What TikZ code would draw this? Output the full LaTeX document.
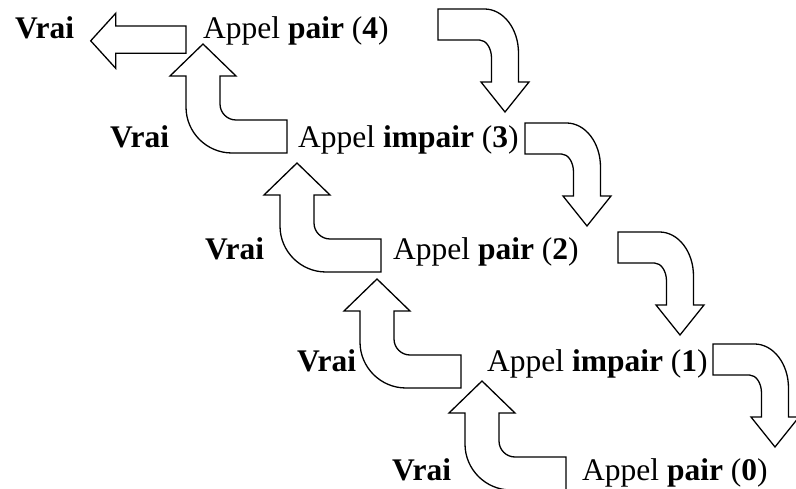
\documentclass[tikz,border=0pt]{standalone}
\usepackage{fontspec}
\setmainfont{Liberation Serif}
\usetikzlibrary{positioning}
\tikzset{
  rtxt/.style={anchor=base west, inner sep=0pt, font=\fontsize{31.5}{38}\selectfont},
  rblock/.style={draw, line width=1.3pt, fill=white, line join=miter},
  retour/.pic={
    \draw[rblock] (0,0) -- (33,32) -- (17,32) -- (17,60)
      .. controls (17,68.8) and (24.2,76) .. (33,76)
      -- (84,76) -- (84,109) -- (29,109)
      .. controls (3.6,109) and (-17,88.4) .. (-17,63)
      -- (-17,32) -- (-33,32) -- cycle;
  },
  appel/.pic={
    \draw[rblock] (0,0) -- (-24,-30) -- (-13.5,-30) -- (-13.5,-54)
      .. controls (-13.5,-63.9) and (-18.9,-72) .. (-25.5,-72)
      -- (-#1,-72) -- (-#1,-103) -- (-20.5,-103)
      .. controls (-1.7,-103) and (13.5,-83.3) .. (13.5,-59)
      -- (13.5,-30) -- (24,-30) -- cycle;
  },
}
\begin{document}
\begin{tikzpicture}[x=1pt, y=-1pt]
  \useasboundingbox (0,0) rectangle (796,489);

  \draw[rblock] (90.7,40.8) -- (115.7,13.3) -- (115.7,26) -- (186,26)
    -- (186,53.3) -- (115.7,53.3) -- (115.7,68.3) -- cycle;

  \pic at (203,44) {retour};
  \pic at (297,163) {retour};
  \pic at (377,279) {retour};
  \pic at (482,381) {retour};

  \pic at (505,112) {appel=67};
  \pic at (587,226) {appel=62};
  \pic at (680,335) {appel=62};
  \pic at (775,447) {appel=62};

  \node[rtxt] (vrai4) at (15,39) {\textbf{Vrai}};
  \node[rtxt] (pair4) at (203,39) {Appel \textbf{pair} (\textbf{4})};
  \node[rtxt] (vrai3) at (110,148) {\textbf{Vrai}};
  \node[rtxt] (impair3) at (298,148) {Appel \textbf{impair} (\textbf{3})};
  \node[rtxt] (vrai2) at (205,260) {\textbf{Vrai}};
  \node[rtxt] (pair2) at (393,260) {Appel \textbf{pair} (\textbf{2})};
  \node[rtxt] (vrai1) at (297,371) {\textbf{Vrai}};
  \node[rtxt] (impair1) at (487,371) {Appel \textbf{impair} (\textbf{1})};
  \node[rtxt] (vrai0) at (392,480) {\textbf{Vrai}};
  \node[rtxt] (pair0) at (582,480) {Appel \textbf{pair} (\textbf{0})};
\end{tikzpicture}
\end{document}
